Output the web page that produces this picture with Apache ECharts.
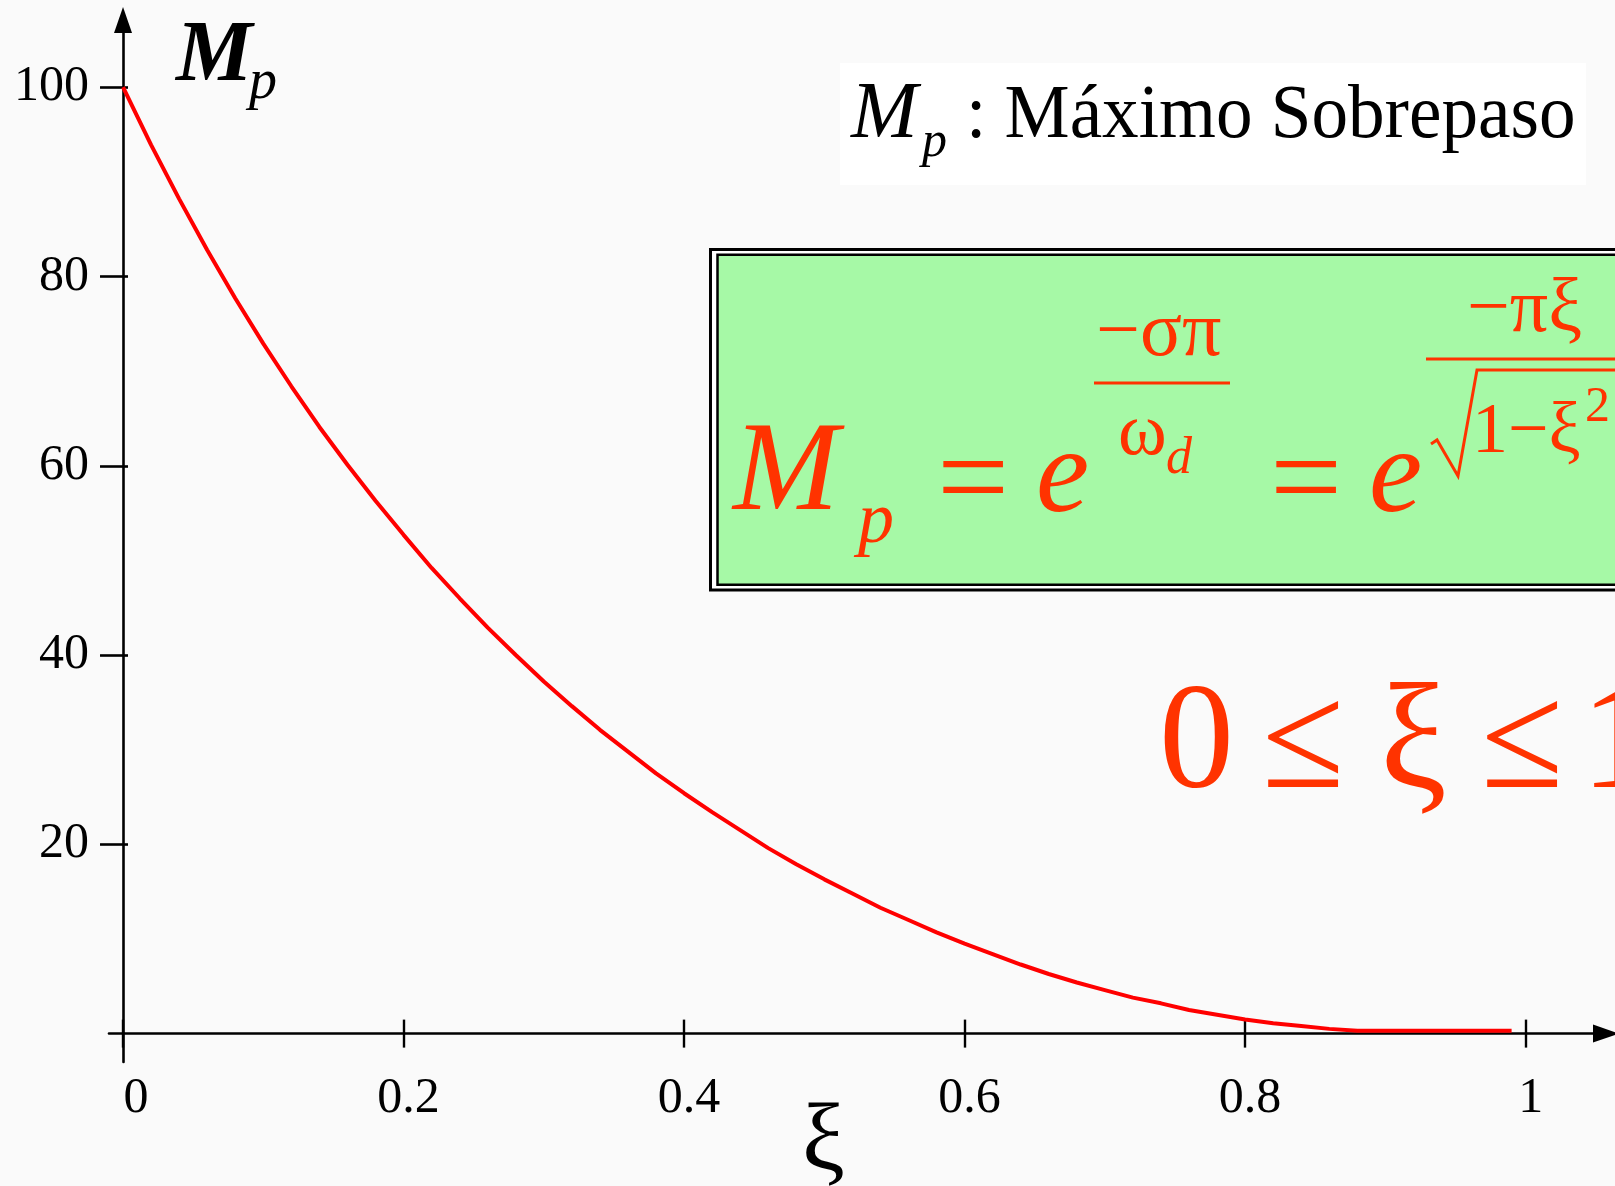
<!DOCTYPE html>
<html>
<head>
<meta charset="utf-8">
<title>Máximo Sobrepaso</title>
<script src="https://cdn.jsdelivr.net/npm/echarts@6/dist/echarts.min.js"></script>
<style>
  html, body { margin: 0; padding: 0; background: #fafafa; }
  #chart { width: 1615px; height: 1186px; }
</style>
</head>
<body>
<div id="chart"></div>
<script>
// Damping ratio (xi) and the percent overshoot Mp
const dampingRatio = [
  0.00, 0.02, 0.04, 0.06, 0.08, 0.10, 0.12, 0.14, 0.16, 0.18,
  0.20, 0.22, 0.24, 0.26, 0.28, 0.30, 0.32, 0.34, 0.36, 0.38,
  0.40, 0.42, 0.44, 0.46, 0.48, 0.50, 0.52, 0.54, 0.56, 0.58,
  0.60, 0.62, 0.64, 0.66, 0.68, 0.70, 0.72, 0.74, 0.76, 0.78,
  0.80, 0.82, 0.84, 0.86, 0.88, 0.90, 0.92, 0.94, 0.96, 0.98, 0.99
];
const overshootPct = [
  100, 93.9, 88.2, 82.8, 77.7, 72.9, 68.4, 64.1, 60.1, 56.3,
  52.7, 49.2, 46.0, 42.9, 40.0, 37.2, 34.6, 32.1, 29.8, 27.5,
  25.4, 23.4, 21.5, 19.6, 17.9, 16.3, 14.8, 13.3, 12.0, 10.7,
  9.5, 8.4, 7.3, 6.3, 5.4, 4.6, 3.8, 3.2, 2.5, 2.0,
  1.5, 1.1, 0.8, 0.5, 0.3, 0.3, 0.3, 0.3, 0.3, 0.3, 0.3
];
// Tick positions on each axis
const xTicks = [0, 0.2, 0.4, 0.6, 0.8, 1];
const yTicks = [20, 40, 60, 80, 100];

const SERIF = '"Liberation Serif", "Times New Roman", serif';
const RED = '#ff3300';

// Text placed by its baseline; canvas "middle" sits about 0.30em above the baseline
function txt(str, x, baseline, size, opts) {
  opts = opts || {};
  return {
    type: 'text',
    x: x,
    y: baseline - 0.30 * size,
    scaleX: opts.scaleX || 1,
    z: 10,
    style: {
      text: str,
      x: 0, y: 0,
      fontFamily: SERIF,
      fontSize: size,
      fontStyle: opts.italic ? 'italic' : 'normal',
      fontWeight: opts.bold ? 'bold' : 'normal',
      fill: opts.color || '#000',
      align: 'left',
      verticalAlign: 'middle'
    }
  };
}

const chart = echarts.init(document.getElementById('chart'), null, { renderer: 'canvas' });

const axisLineStyle = { color: '#000', width: 2.6 };

const option = {
  backgroundColor: '#fafafa',
  animation: false,
  grid: { left: 109, right: 9, top: 20, bottom: 124, containLabel: false, outerBoundsMode: 'none' },
  xAxis: [
    {
      type: 'value', min: -0.01, max: 1.0573, position: 'bottom',
      axisLine: { show: true, onZero: true, onZeroAxisIndex: 0,
        symbol: ['none', 'triangle'], symbolSize: [18, 26], lineStyle: axisLineStyle },
      axisTick: { show: true, customValues: xTicks, length: 14, inside: false,
        lineStyle: { color: '#000', width: 2.4 } },
      axisLabel: {
        show: true, customValues: xTicks, margin: 12,
        formatter: function (v) { return v === 0 ? '{z|0}' : '{a|' + v + '}'; },
        rich: {
          a: { fontFamily: SERIF, fontSize: 50, color: '#000', padding: [0, 0, 0, 10] },
          z: { fontFamily: SERIF, fontSize: 50, color: '#000', padding: [0, 0, 0, 26] }
        }
      },
      splitLine: { show: false }
    },
    {
      type: 'value', min: -0.01, max: 1.0573, position: 'bottom',
      axisLine: { show: false, onZero: true, onZeroAxisIndex: 0 },
      axisTick: { show: true, customValues: xTicks, length: 14, inside: true,
        lineStyle: { color: '#000', width: 2.4 } },
      axisLabel: { show: false },
      splitLine: { show: false }
    }
  ],
  yAxis: [
    {
      type: 'value', min: -3, max: 107.1, position: 'left',
      axisLine: { show: true, onZero: true, onZeroAxisIndex: 0,
        symbol: ['none', 'triangle'], symbolSize: [18, 26], lineStyle: axisLineStyle },
      axisTick: { show: true, customValues: yTicks, length: 23, inside: false,
        lineStyle: { color: '#000', width: 2.6 } },
      axisLabel: { show: true, customValues: yTicks, margin: 20,
        fontFamily: SERIF, fontSize: 50, color: '#000' },
      splitLine: { show: false }
    },
    {
      type: 'value', min: -3, max: 107.1, position: 'left',
      axisLine: { show: false, onZero: true, onZeroAxisIndex: 0 },
      axisTick: { show: true, customValues: yTicks, length: 5, inside: true,
        lineStyle: { color: '#000', width: 2.6 } },
      axisLabel: { show: false },
      splitLine: { show: false }
    }
  ],
  series: [{
    type: 'line',
    xAxisIndex: 0,
    yAxisIndex: 0,
    data: dampingRatio.map(function (x, i) { return [x, overshootPct[i]]; }),
    showSymbol: false,
    lineStyle: { color: '#ff0000', width: 4 },
    z: 5
  }],
  graphic: [
    // axis titles
    txt('M', 176, 84, 86, { italic: true, bold: true }),
    txt('p', 249, 100, 56, { italic: true }),
    txt('ξ', 802, 1173, 96),

    // legend caption
    { type: 'rect', shape: { x: 840, y: 63, width: 746, height: 122 },
      style: { fill: '#ffffff' }, z: 5 },
    txt('M', 851, 140, 80, { italic: true }),
    txt('p', 922, 158, 50, { italic: true }),
    txt(': Máximo Sobrepaso', 966, 140, 77, { scaleX: 0.95 }),

    // formula panel with double border
    { type: 'rect', shape: { x: 710.5, y: 249.5, width: 1000, height: 340.5 },
      style: { fill: '#ffffff', stroke: '#000', lineWidth: 3 }, z: 5 },
    { type: 'rect', shape: { x: 717.5, y: 254.8, width: 1000, height: 330 },
      style: { fill: '#a6f9a6', stroke: '#000', lineWidth: 2.5 }, z: 6 },

    txt('M', 733, 514, 127, { italic: true, color: RED }),
    txt('p', 858, 545, 72, { italic: true, color: RED }),
    txt('=', 937, 524, 128, { color: RED }),
    txt('e', 1036, 515, 120, { italic: true, color: RED }),
    txt('−σπ', 1096, 358, 78, { color: RED }),
    { type: 'line', shape: { x1: 1094, y1: 383, x2: 1230, y2: 383 },
      style: { stroke: RED, lineWidth: 3 }, z: 10 },
    txt('ω', 1118, 457, 74, { color: RED }),
    txt('d', 1166, 475, 52, { italic: true, color: RED }),
    txt('=', 1270, 524, 128, { color: RED }),
    txt('e', 1369, 515, 120, { italic: true, color: RED }),
    txt('−πξ', 1467, 334, 76, { color: RED }),
    { type: 'line', shape: { x1: 1426, y1: 359, x2: 1640, y2: 359 },
      style: { stroke: RED, lineWidth: 3 }, z: 10 },
    { type: 'polyline',
      shape: { points: [[1431, 444], [1437, 440], [1458, 476], [1477, 370], [1640, 370]] },
      style: { stroke: RED, lineWidth: 3, fill: null, lineJoin: 'miter' }, z: 10 },
    txt('1−ξ', 1472, 455, 72, { color: RED }),
    txt('2', 1585, 423, 50, { color: RED }),

    // range of the damping ratio
    txt('0', 1159, 793, 150, { color: RED }),
    txt('≤', 1262, 793, 150, { color: RED }),
    txt('ξ', 1380, 793, 150, { color: RED }),
    txt('≤', 1481, 793, 150, { color: RED }),
    txt('1', 1581, 793, 150, { color: RED })
  ]
};

chart.setOption(option);
</script>
</body>
</html>
